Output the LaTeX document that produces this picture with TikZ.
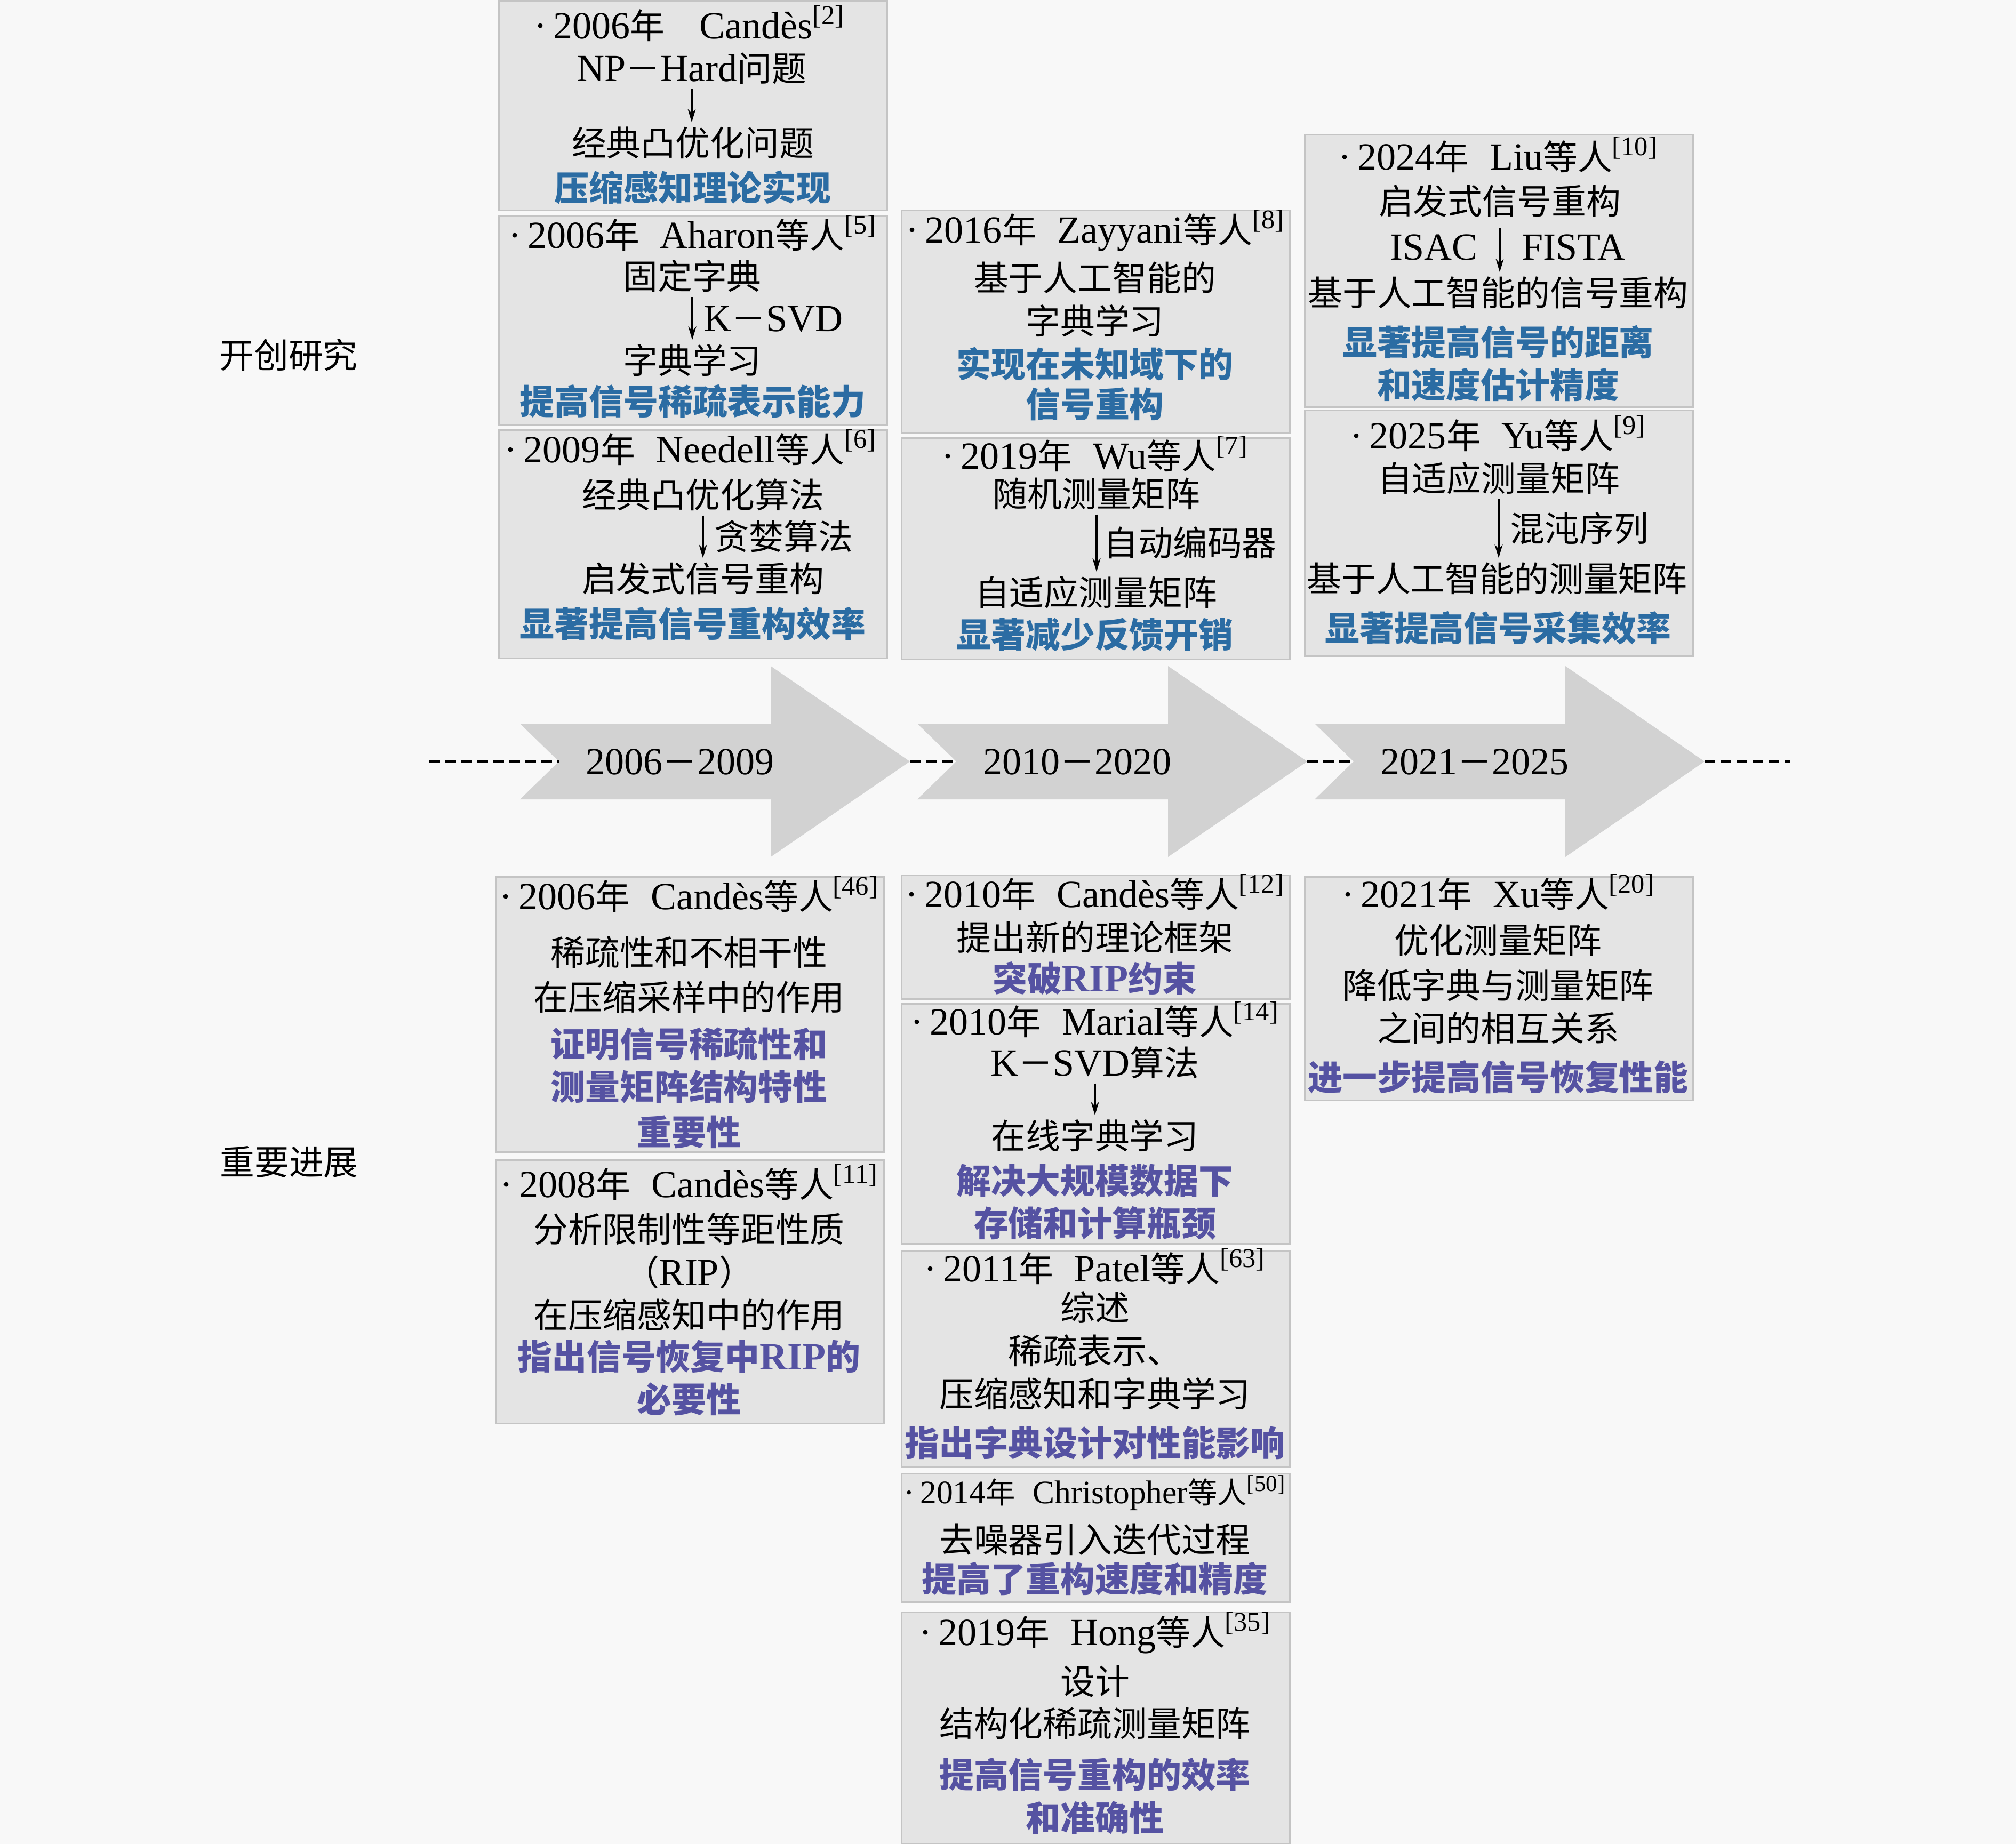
\documentclass[tikz,border=0pt]{standalone}
\usepackage{fontspec}
\setmainfont{Liberation Serif}
\newfontfamily\cjk[Scale=0.9]{Noto Sans CJK SC}
\usetikzlibrary{arrows.meta}

\definecolor{bgcol}{HTML}{F8F8F8}
\definecolor{boxfill}{HTML}{E4E4E4}
\definecolor{boxline}{HTML}{C4C4C4}
\definecolor{chevfill}{HTML}{D2D2D2}
\definecolor{hlblue}{HTML}{2B6CA3}
\definecolor{hlpurple}{HTML}{5552A2}

\newcommand\en[1]{{\rmfamily #1}}
\newcommand\hdr[3]{\en{·\,#1}年\hspace{.6em}\en{#2}等人\en{\textsuperscript{[#3]}}}

\tikzset{
  card/.style={draw=boxline, fill=boxfill, line width=0.8pt, anchor=north west,
    inner sep=0pt, minimum width=7.28cm},
  txt/.style={font=\fontsize{20.5}{24}\selectfont\cjk, inner sep=0.04cm,
    text height=0.58cm, text depth=0.1cm},
  hlb/.style={txt, text=hlblue, font=\fontsize{20.5}{24}\selectfont\cjk\bfseries},
  hlp/.style={txt, text=hlpurple, font=\fontsize{20.5}{24}\selectfont\cjk\bfseries},
  lab/.style={txt, inner sep=0.2cm},
  flow/.style={-{Stealth[length=0.25cm,width=0.15cm]}, line width=0.9pt},
  timeline/.style={line width=1.3pt, dash pattern=on 0.2cm off 0.1cm},
}

\begin{document}
\begin{tikzpicture}
    \fill[bgcol] (0,0) rectangle (37.8,-34.58);
    \useasboundingbox (0,0) rectangle (37.8,-34.58);

    % Side labels
    \node[txt] (pioneer) at (5.41,-6.66) {开创研究};
    \node[txt] (progress) at (5.42,-21.79) {重要进展};

    % Time line
    \foreach \i/\t/\ya/\yb in {1/9.75/2006/2009, 2/17.20/2010/2020, 3/24.65/2021/2025} {
        \fill[chevfill] (\t,-13.57) -- (\t+0.73,-14.28) -- (\t,-14.99) -- (\t+4.70,-14.99)
            -- (\t+4.70,-16.07) -- (\t+7.31,-14.28) -- (\t+4.70,-12.49) -- (\t+4.70,-13.57) -- cycle;
        \coordinate (n\i) at (\t+0.73,-14.28);
        \coordinate (t\i) at (\t+7.31,-14.28);
        \node[txt] (yr\i) at (\t+3.0,-14.28) {\en{\ya}－\en{\yb}};
    }
    \coordinate (dl) at (8.05,-14.28);
    \coordinate (dr) at (33.56,-14.28);
    \draw[timeline] (dl) -- (n1);
    \draw[timeline] (t1) -- (n2);
    \draw[timeline] (t2) -- (n3);
    \draw[timeline] (t3) -- (dr);

    % Cards above the time line
    \node[card, minimum height=3.93cm] (cA) at (9.34,0) {};
    \node[card, minimum height=3.93cm] (cB) at (9.34,-4.03) {};
    \node[card, minimum height=4.28cm] (cC) at (9.34,-8.05) {};
    \node[card, minimum height=4.18cm] (cD) at (16.89,-3.93) {};
    \node[card, minimum height=4.15cm] (cE) at (16.89,-8.20) {};
    \node[card, minimum height=5.11cm] (cF) at (24.45,-2.51) {};
    \node[card, minimum height=4.61cm] (cG) at (24.45,-7.68) {};

    % Cards below the time line
    \node[card, minimum height=5.16cm] (cH) at (9.28,-16.43) {};
    \node[card, minimum height=4.94cm] (cI) at (9.28,-21.74) {};
    \node[card, minimum height=2.32cm] (cJ) at (16.89,-16.40) {};
    \node[card, minimum height=4.50cm] (cK) at (16.89,-18.81) {};
    \node[card, minimum height=4.05cm] (cL) at (16.89,-23.44) {};
    \node[card, minimum height=2.41cm] (cM) at (16.89,-27.62) {};
    \node[card, minimum height=4.34cm] (cN) at (16.89,-30.22) {};
    \node[card, minimum height=4.19cm] (cO) at (24.45,-16.43) {};

    % 2006 Candes
    \node[txt] (a1) at (12.93,-0.48) {\en{·\,2006}年\quad\en{Candès\textsuperscript{[2]}}};
    \node[txt] (a2) at (12.97,-1.28) {\en{NP}－\en{Hard}问题};
    \node[txt] (a3) at (12.99,-2.68) {经典凸优化问题};
    \node[hlb] (a4) at (12.99,-3.52) {压缩感知理论实现};
    \draw[flow] (a2.south) -- (a2.south |- a3.north);

    % 2006 Aharon
    \node[txt] (b1) at (12.99,-4.41) {\hdr{2006}{Aharon}{5}};
    \node[txt] (b2) at (12.98,-5.18) {固定字典};
    \node[txt] (b3) at (12.98,-6.76) {字典学习};
    \node[hlb] (b4) at (12.99,-7.53) {提高信号稀疏表示能力};
    \draw[flow] (b2.south) -- node[lab, right] (b2l) {\en{K}－\en{SVD}} (b2.south |- b3.north);

    % 2009 Needell
    \node[txt] (c1) at (12.95,-8.43) {\hdr{2009}{Needell}{6}};
    \node[txt] (c2) at (13.18,-9.28) {经典凸优化算法};
    \node[txt] (c3) at (13.18,-10.85) {启发式信号重构};
    \node[hlb] (c4) at (12.99,-11.70) {显著提高信号重构效率};
    \draw[flow] (c2.south) -- node[lab, right] (c2l) {贪婪算法} (c2.south |- c3.north);

    % 2016 Zayyani
    \node[txt] (d1) at (20.54,-4.31) {\hdr{2016}{Zayyani}{8}};
    \node[txt] (d2) at (20.53,-5.21) {基于人工智能的};
    \node[txt] (d3) at (20.53,-6.02) {字典学习};
    \node[hlb] (d4) at (20.53,-6.83) {实现在未知域下的};
    \node[hlb] (d5) at (20.53,-7.58) {信号重构};

    % 2019 Wu
    \node[txt] (e1) at (20.53,-8.55) {\hdr{2019}{Wu}{7}};
    \node[txt] (e2) at (20.56,-9.26) {随机测量矩阵};
    \node[txt] (e3) at (20.55,-11.11) {自适应测量矩阵};
    \node[hlb] (e4) at (20.53,-11.90) {显著减少反馈开销};
    \draw[flow] (e2.south) -- node[lab, right, inner sep=0.12cm] (e2l) {自动编码器} (e2.south |- e3.north);

    % 2024 Liu
    \node[txt] (f1) at (28.09,-2.94) {\hdr{2024}{Liu}{10}};
    \node[txt] (f2) at (28.12,-3.77) {启发式信号重构};
    \node[txt] (f3) at (28.09,-5.49) {基于人工智能的信号重构};
    \node[hlb] (f4) at (28.09,-6.42) {显著提高信号的距离};
    \node[hlb] (f5) at (28.09,-7.22) {和速度估计精度};
    \draw[flow, shorten <=0.12cm] (f2.south) -- node[lab, left, xshift=-0.2cm] (f2l) {\en{ISAC}}
        node[lab, right, xshift=0.2cm] (f2r) {\en{FISTA}} (f2.south |- f3.north);

    % 2025 Yu
    \node[txt] (g1) at (28.09,-8.17) {\hdr{2025}{Yu}{9}};
    \node[txt] (g2) at (28.10,-8.97) {自适应测量矩阵};
    \node[txt] (g3) at (28.07,-10.85) {基于人工智能的测量矩阵};
    \node[hlb] (g4) at (28.09,-11.78) {显著提高信号采集效率};
    \draw[flow] (g2.south) -- node[lab, right] (g2l) {混沌序列} (g2.south |- g3.north);

    % 2006 Candes et al.
    \node[txt] (h1) at (12.92,-16.81) {\hdr{2006}{Candès}{46}};
    \node[txt] (h2) at (12.92,-17.86) {稀疏性和不相干性};
    \node[txt] (h3) at (12.92,-18.70) {在压缩采样中的作用};
    \node[hlp] (h4) at (12.92,-19.58) {证明信号稀疏性和};
    \node[hlp] (h5) at (12.92,-20.38) {测量矩阵结构特性};
    \node[hlp] (h6) at (12.92,-21.23) {重要性};

    % 2008 Candes et al.
    \node[txt] (i1) at (12.92,-22.21) {\hdr{2008}{Candès}{11}};
    \node[txt] (i2) at (12.92,-23.05) {分析限制性等距性质};
    \node[txt] (i3) at (12.92,-23.86) {（\en{RIP}）};
    \node[txt] (i4) at (12.92,-24.66) {在压缩感知中的作用};
    \node[hlp] (i5) at (12.92,-25.44) {指出信号恢复中\en{RIP}的};
    \node[hlp] (i6) at (12.92,-26.24) {必要性};

    % 2010 Candes et al.
    \node[txt] (j1) at (20.53,-16.77) {\hdr{2010}{Candès}{12}};
    \node[txt] (j2) at (20.53,-17.58) {提出新的理论框架};
    \node[hlp] (j3) at (20.53,-18.35) {突破\en{RIP}约束};

    % 2010 Marial
    \node[txt] (k1) at (20.53,-19.16) {\hdr{2010}{Marial}{14}};
    \node[txt] (k2) at (20.53,-19.93) {\en{K}－\en{SVD}算法};
    \node[txt] (k3) at (20.53,-21.30) {在线字典学习};
    \node[hlp] (k4) at (20.53,-22.14) {解决大规模数据下};
    \node[hlp] (k5) at (20.53,-22.94) {存储和计算瓶颈};
    \draw[flow] (k2.south) -- (k2.south |- k3.north);

    % 2011 Patel
    \node[txt] (l1) at (20.53,-23.79) {\hdr{2011}{Patel}{63}};
    \node[txt] (l2) at (20.53,-24.52) {综述};
    \node[txt] (l3) at (20.53,-25.33) {稀疏表示、};
    \node[txt] (l4) at (20.53,-26.14) {压缩感知和字典学习};
    \node[hlp] (l5) at (20.53,-27.06) {指出字典设计对性能影响};

    % 2014 Christopher
    \node[txt, font=\fontsize{17.5}{21}\selectfont\cjk] (m1) at (20.53,-27.95) {\hdr{2014}{Christopher}{50}};
    \node[txt] (m2) at (20.53,-28.87) {去噪器引入迭代过程};
    \node[hlp] (m3) at (20.53,-29.61) {提高了重构速度和精度};

    % 2019 Hong
    \node[txt] (n1) at (20.53,-30.61) {\hdr{2019}{Hong}{35}};
    \node[txt] (n2) at (20.53,-31.53) {设计};
    \node[txt] (n3) at (20.53,-32.32) {结构化稀疏测量矩阵};
    \node[hlp] (n4) at (20.53,-33.28) {提高信号重构的效率};
    \node[hlp] (n5) at (20.53,-34.09) {和准确性};

    % 2021 Xu
    \node[txt] (o1) at (28.09,-16.77) {\hdr{2021}{Xu}{20}};
    \node[txt] (o2) at (28.09,-17.63) {优化测量矩阵};
    \node[txt] (o3) at (28.09,-18.48) {降低字典与测量矩阵};
    \node[txt] (o4) at (28.09,-19.28) {之间的相互关系};
    \node[hlp] (o5) at (28.09,-20.20) {进一步提高信号恢复性能};

\end{tikzpicture}
\end{document}
